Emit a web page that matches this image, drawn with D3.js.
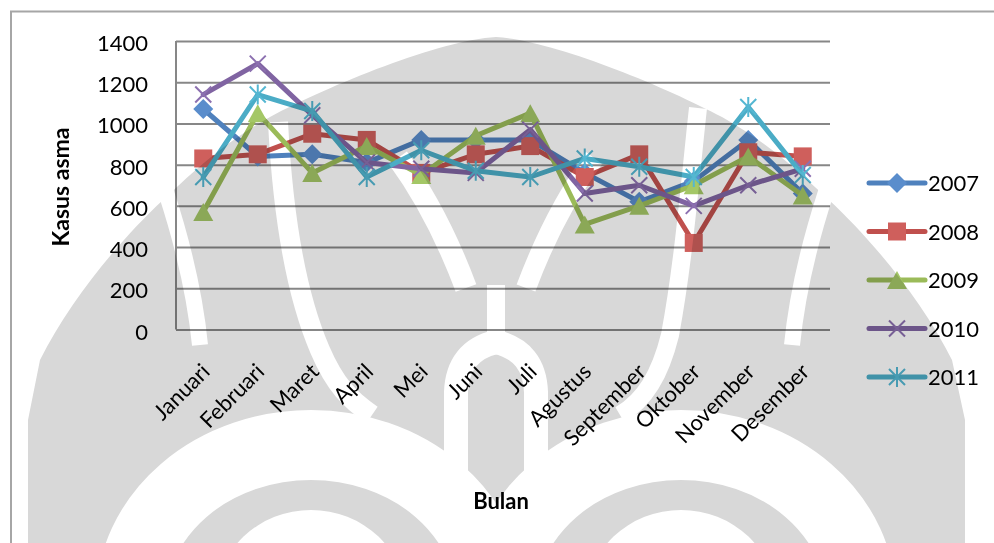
<!DOCTYPE html>
<html>
<head>
<meta charset="utf-8">
<script src="https://cdn.jsdelivr.net/npm/d3@7"></script>
<style>
  html, body { margin: 0; padding: 0; background: #fff; }
  svg { display: block; }
  text { font-family: Lato, "Noto Sans", sans-serif; fill: #000; }
</style>
</head>
<body>
<svg id="chart" width="994" height="543"></svg>
<script>
// Monthly asthma cases per year
const months = ["Januari", "Februari", "Maret", "April", "Mei", "Juni", "Juli",
                "Agustus", "September", "Oktober", "November", "Desember"];
const years = ["2007", "2008", "2009", "2010", "2011"];
const kasus2007 = [1070, 840, 850, 810, 920, 920, 920, 760, 620, 720, 920, 660];
const kasus2008 = [830, 850, 950, 920, 760, 850, 890, 740, 850, 420, 860, 840];
const kasus2009 = [570, 1050, 760, 890, 750, 940, 1050, 510, 600, 700, 840, 650];
const kasus2010 = [1140, 1290, 1040, 810, 780, 760, 970, 660, 700, 600, 700, 780];
const kasus2011 = [740, 1140, 1060, 740, 870, 770, 740, 830, 790, 740, 1080, 750];
const yTicks = [0, 200, 400, 600, 800, 1000, 1200, 1400];

const seriesValues = [kasus2007, kasus2008, kasus2009, kasus2010, kasus2011];
const seriesColors = ["#4f81bd", "#c0504d", "#9bbb59", "#8064a2", "#4bacc6"];
const markerFills  = ["#5a8dcc", "#cf5f5c", "#a4c766", "#8c70b0", "#54b7d2"];
const markerKinds  = ["diamond", "square", "triangle", "x", "star"];

const svg = d3.select("#chart");

// Outer frame
svg.append("rect")
  .attr("x", 11).attr("y", 11.5).attr("width", 1000).attr("height", 600)
  .attr("fill", "none").attr("stroke", "#a6a6a6").attr("stroke-width", 2);

const plot = { left: 176, right: 830, top: 41, bottom: 329.5 };

const x = d3.scaleBand().domain(months).range([plot.left, plot.right]);
const y = d3.scaleLinear().domain([0, 1400]).range([plot.bottom, plot.top]);
const cx = m => x(m) + x.bandwidth() / 2;

// Horizontal gridlines
svg.append("g")
  .attr("transform", `translate(${plot.left},0)`)
  .call(d3.axisLeft(y).tickValues(yTicks).tickSize(-(plot.right - plot.left)).tickFormat(""))
  .call(g => g.select(".domain").remove())
  .call(g => g.selectAll(".tick line").attr("stroke", "#878787").attr("stroke-width", 2));

// Value axis line and labels
svg.append("line")
  .attr("x1", plot.left).attr("x2", plot.left)
  .attr("y1", plot.top).attr("y2", plot.bottom)
  .attr("stroke", "#878787").attr("stroke-width", 2);

svg.append("g").selectAll("text")
  .data(yTicks).join("text")
  .attr("x", 148).attr("y", d => y(d) + 10)
  .attr("text-anchor", "end")
  .style("font-size", "22px")
  .text(d => d);

// Category labels, slanted
svg.append("g").selectAll("text")
  .data(months).join("text")
  .attr("transform", d => `translate(${cx(d) + 8},${373}) rotate(-45)`)
  .attr("text-anchor", "end")
  .style("font-size", "22px")
  .text(d => d);

// Axis titles
svg.append("text")
  .attr("transform", `translate(69,187) rotate(-90)`)
  .attr("text-anchor", "middle")
  .style("font-size", "23px").style("font-weight", "bold")
  .text("Kasus asma");

svg.append("text")
  .attr("x", 501).attr("y", 509)
  .attr("text-anchor", "middle")
  .style("font-size", "22px").style("font-weight", "bold")
  .text("Bulan");

// Marker shapes
function markerPath(kind) {
  switch (kind) {
    case "diamond": return "M0,-10L10,0L0,10L-10,0Z";
    case "square": return "M-9,-9H9V9H-9Z";
    case "triangle": return "M0,-9L10,9L-10,9Z";
    case "x": return "M-8,-8L8,8M-8,8L8,-8";
    case "star": return "M-8,-8L8,8M-8,8L8,-8M0,-10V10";
  }
}
function drawMarker(sel, i) {
  const kind = markerKinds[i];
  const open = kind === "x" || kind === "star";
  sel.append("path")
    .attr("d", markerPath(kind))
    .attr("fill", open ? "none" : markerFills[i])
    .attr("stroke", open ? markerFills[i] : "none")
    .attr("stroke-width", open ? 2 : 0);
}

const line = d3.line().x((d, i) => cx(months[i])).y(d => y(d));

seriesValues.forEach((vals, i) => {
  const g = svg.append("g");
  g.append("path")
    .datum(vals)
    .attr("d", line)
    .attr("fill", "none")
    .attr("stroke", seriesColors[i])
    .attr("stroke-width", 5)
    .attr("stroke-linejoin", "round")
    .attr("stroke-linecap", "round");
  g.selectAll("g.m")
    .data(vals).join("g")
    .attr("class", "m")
    .attr("transform", (d, j) => `translate(${cx(months[j])},${y(d)})`)
    .each(function () { drawMarker(d3.select(this), i); });
});

// Legend
const legend = svg.append("g");
years.forEach((yr, i) => {
  const ly = 183 + i * 48.5;
  const row = legend.append("g");
  row.append("line")
    .attr("x1", 869).attr("x2", 925).attr("y1", ly).attr("y2", ly)
    .attr("stroke", seriesColors[i]).attr("stroke-width", 5)
    .attr("stroke-linecap", "round");
  row.append("g").attr("transform", `translate(897,${ly})`)
    .call(s => drawMarker(s, i));
  row.append("text")
    .attr("x", 928).attr("y", ly + 8)
    .style("font-size", "22px")
    .text(yr);
});

// Background emblem, multiplied over the page
const emblemFill = [
  "M496,37 C440,40 330,85 270,117 C220,145 190,175 163,200 C120,240 70,300 40,360 L28,420 L28,543 L965,543 L965,420 L952,360 C922,300 872,240 829,200 C802,175 772,145 722,117 C662,85 552,40 496,37 Z"
];
const emblemBands = [
  { d: "M166,192 C180,235 194,285 200,345", w: 16 },
  { d: "M826,192 C812,235 798,285 792,345", w: 16 },
  { d: "M278,122 C282,200 292,285 320,350 C335,385 350,400 372,415", w: 20 },
  { d: "M698,108 C690,180 684,260 670,335 C660,375 645,400 620,415", w: 18 },
  { d: "M398,158 C425,195 448,240 466,288", w: 22 },
  { d: "M594,158 C567,195 544,240 526,288", w: 20 },
  { d: "M496,285 L496,350", w: 18 },
  { d: "M496,342 C470,348 457,365 456,392 L456,560", w: 24 },
  { d: "M496,342 C522,348 535,365 536,392 L536,560", w: 24 }
];
const emblemArches = [
  { cx: 311, cy: 600, rx: 180, ry: 155, w: 70 },
  { cx: 681, cy: 600, rx: 180, ry: 155, w: 70 }
];
const emblemCores = [
  { cx: 311, cy: 600, rx: 95, ry: 90 },
  { cx: 681, cy: 600, rx: 95, ry: 90 }
];

const emblem = svg.append("g").style("mix-blend-mode", "multiply");
emblem.selectAll("path.f").data(emblemFill).join("path")
  .attr("class", "f").attr("d", d => d).attr("fill", "#d8d8d8");
emblem.selectAll("path.b").data(emblemBands).join("path")
  .attr("class", "b").attr("d", d => d.d).attr("fill", "none")
  .attr("stroke", "#fff").attr("stroke-width", d => d.w);
emblem.selectAll("ellipse.a").data(emblemArches).join("ellipse")
  .attr("class", "a").attr("cx", d => d.cx).attr("cy", d => d.cy)
  .attr("rx", d => d.rx).attr("ry", d => d.ry)
  .attr("fill", "none").attr("stroke", "#fff").attr("stroke-width", d => d.w);
emblem.selectAll("ellipse.c").data(emblemCores).join("ellipse")
  .attr("class", "c").attr("cx", d => d.cx).attr("cy", d => d.cy)
  .attr("rx", d => d.rx).attr("ry", d => d.ry)
  .attr("fill", "#fff");
</script>
</body>
</html>
